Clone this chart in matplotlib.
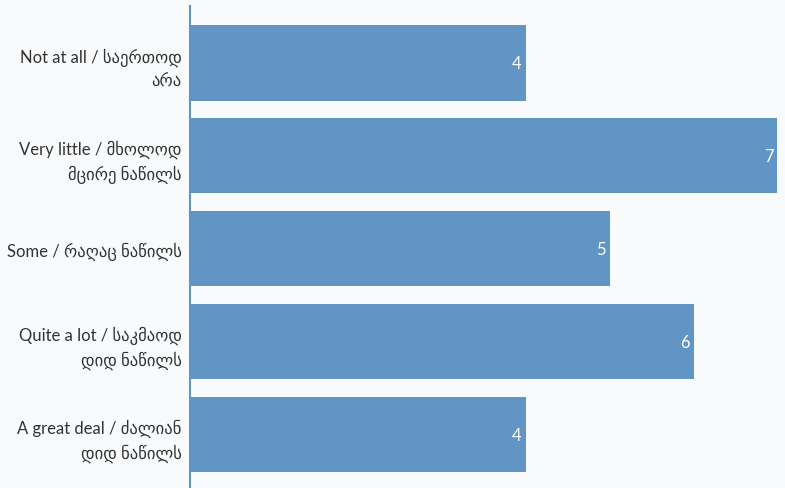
import matplotlib.pyplot as plt
import numpy as np

plt.rcParams['font.family'] = ['Lato', 'DejaVu Sans']

categories = ["Not at all / საერთოდ\nარა",
              "Very little / მხოლოდ\nმცირე ნაწილს",
              "Some / რაღაც ნაწილს",
              "Quite a lot / საკმაოდ\nდიდ ნაწილს",
              "A great deal / ძალიან\nდიდ ნაწილს"]
values = [4, 7, 5, 6, 4]

bar_color = "#6195c5"
bg_color = "#f8fafc"

fig = plt.figure(figsize=(7.85, 4.89), dpi=100, facecolor=bg_color)
ax = fig.add_axes([190 / 785, 0, 595 / 785, 482 / 489])
ax.set_facecolor(bg_color)

y = np.arange(len(categories))
ax.barh(y, values, height=0.81, color=bar_color)
for yi, v in zip(y, values):
    ax.text(v - 0.05, yi, str(v), ha="right", va="center",
            color="white", fontsize=12)

ax.set_yticks(y)
ax.set_yticklabels(categories, fontsize=12, color="#333333",
                   linespacing=1.5)
ax.set_ylim(4.575, -0.613)
ax.set_xlim(0, 7.09)
ax.set_xticks([])
ax.tick_params(axis="y", length=0, pad=6)
for side in ["top", "right", "bottom"]:
    ax.spines[side].set_visible(False)
ax.spines["left"].set_color(bar_color)
ax.spines["left"].set_linewidth(1.5)

plt.savefig("out.png", facecolor=bg_color)
